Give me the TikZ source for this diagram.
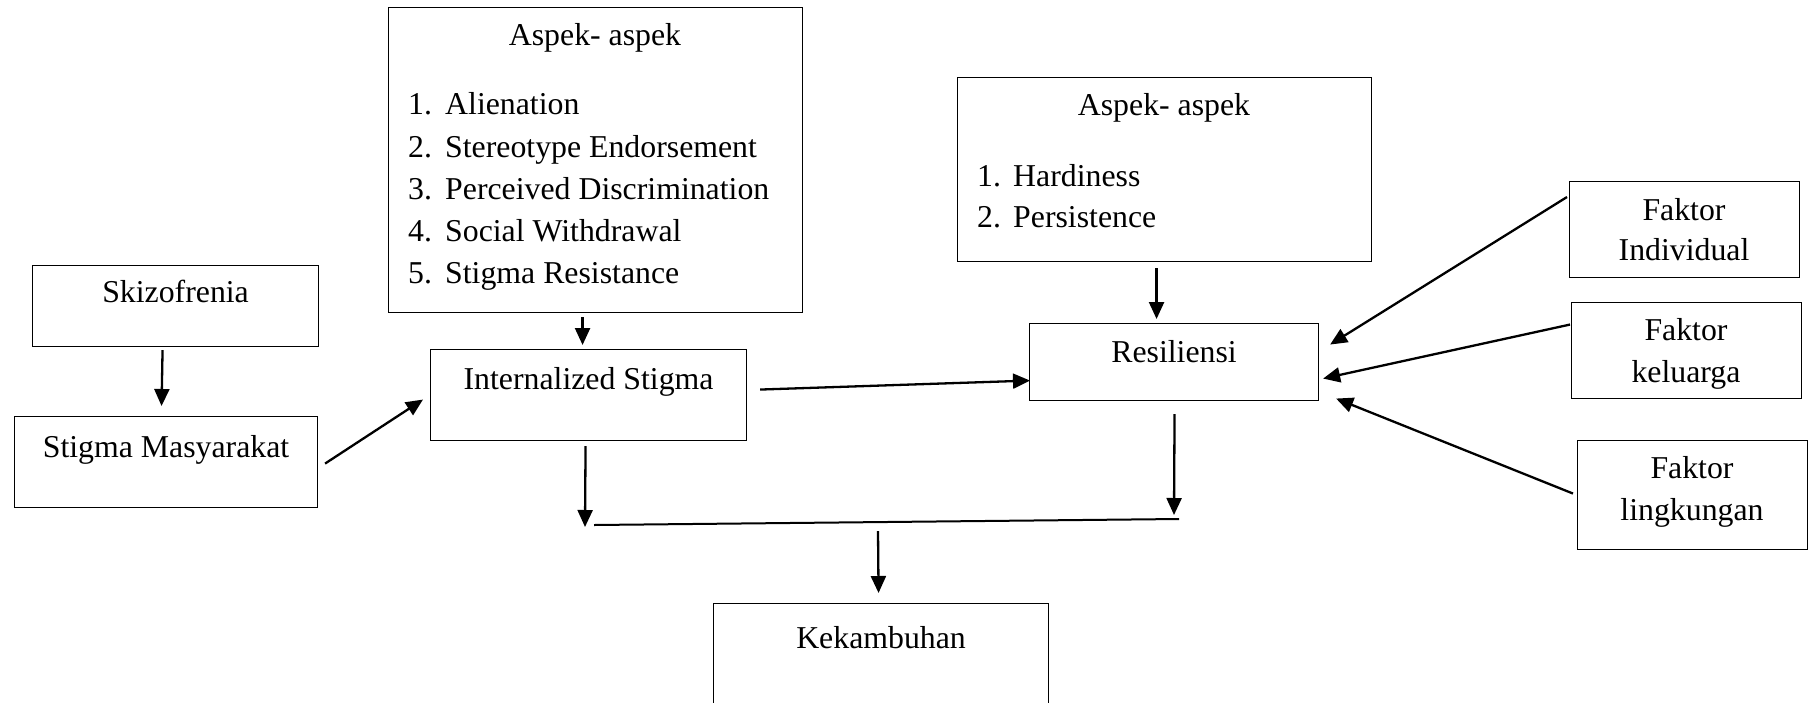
\documentclass[tikz,border=0pt]{standalone}
\usepackage{fontspec}
\setmainfont{Liberation Serif}
\usetikzlibrary{arrows.meta,calc}
\newcommand\dgfont{\fontsize{31.8}{40}\selectfont}
\begin{document}
\begin{tikzpicture}[x=1pt,y=-1pt,
  box/.style={draw, line width=1.1pt, inner sep=0pt, anchor=north west, align=center, font=\dgfont},
  lbl/.style={inner sep=0pt, anchor=base, font=\dgfont},
  lblw/.style={inner sep=0pt, anchor=base west, font=\dgfont},
  arr/.style={line width=2.3pt, -{Triangle[length=17pt,width=15pt]}},
  ln/.style={line width=2pt}]
\clip (0,0) rectangle (1814,702);
\useasboundingbox (0,0) rectangle (1814,702);

% boxes
\node[box, minimum width=286pt, text height=37pt, text depth=44pt] (skz) at (32,265) {Skizofrenia};
\node[box, minimum width=303pt, text height=41pt, text depth=50pt] (sm) at (14,416) {Stigma Masyarakat};
\node[box, minimum width=316pt, text height=40pt, text depth=51pt] (is) at (430,349) {Internalized Stigma};
\node[box, minimum width=289pt, text height=39pt, text depth=38pt] (res) at (1029,323) {Resiliensi};
\node[box, minimum width=335pt, text height=45pt, text depth=70pt] (kek) at (713,603) {Kekambuhan};

\node[box, minimum width=414pt, minimum height=305pt] (asp1) at (388,7) {};
\node[box, minimum width=414pt, minimum height=184pt] (asp2) at (957,77) {};
\node[box, minimum width=230pt, minimum height=96pt] (fi) at (1569,181) {};
\node[box, minimum width=230pt, minimum height=96pt] (fk) at (1571,302) {};
\node[box, minimum width=230pt, minimum height=109pt] (fl) at (1577,440) {};

% texts of aspek 1
\node[lbl] (a1t) at (595,45) {Aspek- aspek};
\node[lblw] (a1n1) at (408,114) {1.};
\node[lblw] (a1i1) at (445,114) {Alienation};
\node[lblw] (a1n2) at (408,157) {2.};
\node[lblw] (a1i2) at (445,157) {Stereotype Endorsement};
\node[lblw] (a1n3) at (408,199) {3.};
\node[lblw] (a1i3) at (445,199) {Perceived Discrimination};
\node[lblw] (a1n4) at (408,241) {4.};
\node[lblw] (a1i4) at (445,241) {Social Withdrawal};
\node[lblw] (a1n5) at (408,283) {5.};
\node[lblw] (a1i5) at (445,283) {Stigma Resistance};

% texts of aspek 2
\node[lbl] (a2t) at (1164,115) {Aspek- aspek};
\node[lblw] (a2n1) at (977,186) {1.};
\node[lblw] (a2i1) at (1013,186) {Hardiness};
\node[lblw] (a2n2) at (977,227) {2.};
\node[lblw] (a2i2) at (1013,227) {Persistence};

% faktor texts
\node[lbl] (fi1) at (1684,220) {Faktor};
\node[lbl] (fi2) at (1684,260) {Individual};
\node[lbl] (fk1) at (1686,340) {Faktor};
\node[lbl] (fk2) at (1686,382) {keluarga};
\node[lbl] (fl1) at (1692,478) {Faktor};
\node[lbl] (fl2) at (1692,520) {lingkungan};

% junction coordinates
\coordinate (jl) at (585,527);
\coordinate (jr) at (1174,515);
\coordinate (hl1) at (594,525);
\coordinate (hl2) at (1179,519);
\coordinate (hm) at (878,531);

% connectors
\draw[arr] ($(skz.south)+(-13,3)$) -- ($(sm.north)+(-4.5,-10)$);
\draw[arr] ($(sm.east)+(7,1.5)$) -- ($(is.west)+(-7,4.5)$);
\draw[arr] ($(asp1.south)+(-13,4)$) -- ($(is.north)+(-6,-4)$);
\draw[arr] ($(is.east)+(13,-5.5)$) -- ($(res.west)+(1,18.5)$);
\draw[arr] ($(asp2.south)+(-8,6)$) -- ($(res.north)+(-17.5,-4)$);
\draw[arr] ($(fi.north west)+(-2,16)$) -- ($(res.east)+(11,-17.5)$);
\draw[arr] ($(fk.west)+(-1,-26)$) -- ($(res.east)+(4,16.5)$);
\draw[arr] ($(fl.west)+(-4,-1.5)$) -- ($(res.east)+(17,36.5)$);
\draw[arr] ($(is.south)+(-3,5)$) -- (jl);
\draw[arr] ($(res.south)+(0.5,13)$) -- (jr);
\draw[ln] (hl1) -- (hl2);
\draw[arr] (hm) -- ($(kek.north)+(-2.5,-10)$);
\end{tikzpicture}
\end{document}
